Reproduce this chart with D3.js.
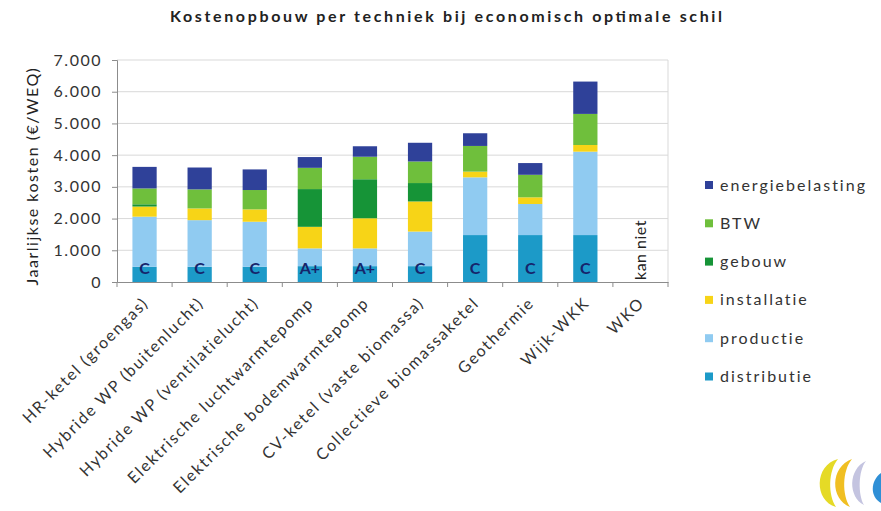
<!DOCTYPE html>
<html><head><meta charset="utf-8">
<script src="https://cdn.jsdelivr.net/npm/d3@7"></script>
<style>
html,body{margin:0;padding:0;background:#fff;}
svg{display:block;font-family:Lato,"Open Sans",sans-serif;}
</style></head>
<body>
<svg id="chart" width="881" height="511"></svg>
<script>
const categories = ["HR-ketel (groengas)", "Hybride WP (buitenlucht)", "Hybride WP (ventilatielucht)",
  "Elektrische luchtwarmtepomp", "Elektrische bodemwarmtepomp", "CV-ketel (vaste biomassa)",
  "Collectieve biomassaketel", "Geothermie", "Wijk-WKK", "WKO"];
const distributie      = [480, 480, 480, 500, 500, 500, 1480, 1480, 1480, 0];
const productie        = [1580, 1470, 1420, 560, 560, 1090, 1820, 980, 2630, 0];
const installatie      = [320, 370, 390, 680, 950, 950, 180, 210, 210, 0];
const gebouw           = [70, 0, 0, 1190, 1230, 580, 0, 0, 0, 0];
const BTW              = [500, 600, 610, 670, 710, 680, 810, 710, 980, 0];
const energiebelasting = [680, 690, 650, 340, 330, 590, 400, 370, 1020, 0];
const barLabels = ["C", "C", "C", "A+", "A+", "C", "C", "C", "C", "kan niet"];
const seriesNames = ["distributie", "productie", "installatie", "gebouw", "BTW", "energiebelasting"];
const yTicks = [0, 1000, 2000, 3000, 4000, 5000, 6000, 7000];
const title = "Kostenopbouw per techniek bij economisch optimale schil";
const yTitle = "Jaarlijkse kosten (€/WEQ)";

const colors = {
  distributie: "#1c9ac8",
  productie: "#90cbf1",
  installatie: "#f7d417",
  gebouw: "#169437",
  BTW: "#6fbf3c",
  energiebelasting: "#2f4199"
};

const seriesValues = {distributie, productie, installatie, gebouw, BTW, energiebelasting};
const rows = categories.map((c, i) => {
  const r = {cat: c};
  seriesNames.forEach(s => r[s] = seriesValues[s][i]);
  return r;
});

const svg = d3.select("#chart");
const pLeft = 117, pRight = 668, pTop = 60, pBottom = 282;

const x = d3.scaleBand().domain(categories).range([pLeft, pRight]).paddingInner(0.56).paddingOuter(0.28);
const y = d3.scaleLinear().domain([0, 7000]).range([pBottom, pTop]);
const loc = d3.formatLocale({decimal: ",", thousands: ".", grouping: [3], currency: ["€", ""]});
const fmt = loc.format(",");

// gridlines
svg.append("g").selectAll("line").data(yTicks.slice(1)).join("line")
  .attr("x1", pLeft).attr("x2", pRight)
  .attr("y1", d => y(d)).attr("y2", d => y(d))
  .attr("stroke", "#d9d9d9").attr("stroke-width", 1);
svg.append("line").attr("x1", pRight).attr("x2", pRight).attr("y1", pTop).attr("y2", pBottom)
  .attr("stroke", "#d9d9d9");

// title
svg.append("text").attr("x", 446).attr("y", 22).attr("text-anchor", "middle")
  .attr("font-size", 16).attr("font-weight", "bold").attr("fill", "#222")
  .attr("textLength", 552).attr("lengthAdjust", "spacing")
  .text(title);

// stacked bars
const stacked = d3.stack().keys(seriesNames)(rows);
svg.append("g").selectAll("g").data(stacked).join("g")
  .attr("fill", d => colors[d.key])
  .selectAll("rect").data(d => d).join("rect")
  .attr("x", d => x(d.data.cat))
  .attr("width", x.bandwidth())
  .attr("y", d => y(d[1]))
  .attr("height", d => Math.max(0, y(d[0]) - y(d[1])));

// y axis
const yAxis = d3.axisLeft(y).tickValues(yTicks).tickFormat(fmt).tickSize(5).tickPadding(10);
const ga = svg.append("g").attr("transform", `translate(${pLeft},0)`).call(yAxis);
ga.select(".domain").attr("stroke", "#8c8c8c");
ga.selectAll(".tick line").attr("stroke", "#8c8c8c");
ga.selectAll("text").attr("font-size", 16).attr("fill", "#333")
  .attr("font-family", "Lato, sans-serif").attr("letter-spacing", 1.5);

// x axis
const xAxis = d3.axisBottom(x).tickSize(0).tickFormat("");
const gx = svg.append("g").attr("transform", `translate(0,${pBottom})`).call(xAxis);
gx.select(".domain").attr("stroke", "#8c8c8c");
const bounds = categories.map((c, i) => pLeft + i * x.step()).concat([pRight]);
svg.append("g").selectAll("line").data(bounds).join("line")
  .attr("x1", d => d).attr("x2", d => d).attr("y1", pBottom).attr("y2", pBottom + 5)
  .attr("stroke", "#8c8c8c");

// x labels
svg.append("g").selectAll("text").data(categories).join("text")
  .attr("transform", d => `translate(${x(d) + x.bandwidth() / 2 + 5},${pBottom + 22}) rotate(-45)`)
  .attr("text-anchor", "end")
  .attr("font-size", 16).attr("fill", "#333").attr("letter-spacing", 1.7)
  .text(d => d);

// y title
svg.append("text").attr("transform", `translate(38,${(pTop + pBottom) / 2 + 5}) rotate(-90)`)
  .attr("text-anchor", "middle").attr("font-size", 16).attr("fill", "#222").attr("letter-spacing", 1.5)
  .text(yTitle);

// bar labels
svg.append("g").selectAll("text").data(categories).join("text")
  .each(function(d, i) {
    const t = d3.select(this);
    const cx = x(d) + x.bandwidth() / 2;
    if (barLabels[i] === "kan niet") {
      t.attr("transform", `translate(${cx + 6},${y(0) - 2}) rotate(-90)`)
        .attr("text-anchor", "start").attr("font-size", 16).attr("fill", "#222")
        .attr("letter-spacing", 0.5)
        .text(barLabels[i]);
    } else {
      t.attr("x", cx).attr("y", y(0) - 8).attr("text-anchor", "middle")
        .attr("font-size", 16).attr("font-weight", "bold").attr("fill", "#16246b")
        .text(barLabels[i]);
    }
  });

// legend
const legendOrder = seriesNames.slice().reverse();
const lg = svg.append("g").selectAll("g").data(legendOrder).join("g")
  .attr("transform", (d, i) => `translate(705,${185 + i * 38.3})`);
lg.append("rect").attr("x", 0).attr("y", -4).attr("width", 8).attr("height", 8)
  .attr("fill", d => colors[d]);
lg.append("text").attr("x", 15).attr("y", 5.5).attr("font-size", 16).attr("fill", "#333")
  .attr("letter-spacing", 2).text(d => d);

// logo (decorative)
const logo = svg.append("g").attr("transform", "translate(836,483)");
logo.append("path").attr("d", "M2,-24 C-22,-18 -22,18 0,24 C-8,12 -8,-12 2,-24 Z").attr("fill", "#e5da26");
logo.append("path").attr("d", "M16,-24 C-6,-16 -6,16 14,24 C6,12 6,-12 16,-24 Z").attr("fill", "#f0bf22");
logo.append("path").attr("d", "M30,-22 C12,-14 12,14 28,22 C22,12 22,-12 30,-22 Z").attr("fill", "#c4c4e0");
logo.append("path").attr("d", "M45,-10 C34,-2 34,14 45,20 Z").attr("fill", "#2f8fd6");
</script>
</body></html>
